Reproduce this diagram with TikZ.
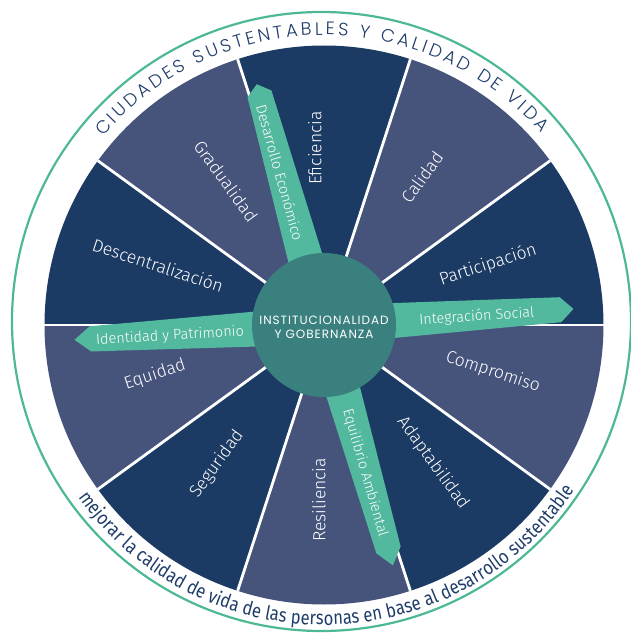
\documentclass[tikz,border=0pt]{standalone}
\usepackage{fontspec}
\setmainfont{Fira Sans Light}
\newfontfamily\capsfont{Poppins Light}
\newfontfamily\hubfont[LetterSpace=8]{Poppins}
\newfontfamily\arcfont[FakeStretch=0.85]{Fira Sans}
\usetikzlibrary{decorations.text}

\definecolor{navy}{HTML}{1B3A64}
\definecolor{slate}{HTML}{46547C}
\definecolor{hubfill}{HTML}{3A807F}
\definecolor{ribbon}{HTML}{52B89E}
\definecolor{ink}{HTML}{1F3D6B}
\definecolor{ringline}{HTML}{4DB894}

\tikzset{
  wedgelabel/.style={text=white, inner sep=0pt, font=\fontsize{17.5}{19}\selectfont},
  ribbonlabel/.style={text=white, inner sep=0pt, font=\fontsize{14.5}{16}\selectfont},
  ribbonfill/.style={fill=ribbon, draw=none},
  divider/.style={white, line width=2.8pt},
}

% one tapered banner leaving the hub at angle #1, point length #2
\newcommand{\banner}[2]{%
  \begin{scope}[rotate=#1]
    \path[ribbonfill] (0,19.5) -- ({250-#2},{19.5-0.0294*(250-#2)})
      -- (250,0) -- ({250-#2},{-19.5+0.0294*(250-#2)}) -- (0,-19.5) -- cycle;
  \end{scope}}

\begin{document}
\begin{tikzpicture}[x=1pt,y=1pt]
\useasboundingbox (-324,-310) rectangle (307,325);

% outer ring
\draw[ringline, line width=2.2pt] (-2.5,3.5) circle[radius=309.5];

% ten wedges
\foreach \a/\c in {72/navy,36/slate,0/navy,-36/slate,-72/navy,-108/slate,-144/navy,180/slate,144/navy,108/slate}
  \fill[\c] (0,0) -- (\a:279.5) arc[start angle=\a, end angle=\a+36, radius=279.5] -- cycle;

% white separators
\foreach \a in {0,36,...,324}
  \draw[divider] (0,0) -- (\a:279.5);

% banners
\banner{105.6}{10}
\banner{3.7}{13}
\banner{183.4}{16}
\banner{-74}{16}

% hub
\node[circle, fill=hubfill, minimum size=144pt, inner sep=0pt] (hub) at (0,0) {};
\node[text=white, align=center, inner sep=0pt,
      font=\hubfont\fontsize{12}{14}\selectfont] (hubtext) at (0,-2.5)
  {INSTITUCIONALIDAD\\Y GOBERNANZA};

% wedge labels
\node[wedgelabel, rotate=90]  (eficiencia) at (-9,177) {Eficiencia};
\node[wedgelabel, rotate=54]  (calidad) at (98,148) {Calidad};
\node[wedgelabel, rotate=18]  (participacion) at (164,60) {Participación};
\node[wedgelabel, rotate=-18] (compromiso) at (169,-47) {Compromiso};
\node[wedgelabel, rotate=-54] (adaptabilidad) at (109,-138) {Adaptabilidad};
\node[wedgelabel, rotate=90]  (resiliencia) at (-5,-175) {Resiliencia};
\node[wedgelabel, rotate=54]  (seguridad) at (-107,-139) {Seguridad};
\node[wedgelabel, rotate=18]  (equidad) at (-169,-50) {Equidad};
\node[wedgelabel, rotate=-18] (descentralizacion) at (-166,60) {Descentralización};
\node[wedgelabel, rotate=-54] (gradualidad) at (-98,144) {Gradualidad};

% banner labels
\node[ribbonlabel, rotate=-74.4] (economico) at (-44,152.5) {Desarrollo Económico};
\node[ribbonlabel, rotate=3.7]   (social) at (152.7,8.3) {Integración Social};
\node[ribbonlabel, rotate=3.4]   (patrimonio) at (-154,-11) {Identidad y Patrimonio};
\node[ribbonlabel, rotate=-74]   (ambiental) at (41,-148) {Equilibrio Ambiental};

% curved titles
\path[decorate, decoration={text along path, text color=ink, text align={fit to path},
    text={|\capsfont\fontsize{18}{21}\selectfont|CIUDADES SUSTENTABLES Y CALIDAD DE VIDA}}]
  (139.5:290) arc[start angle=139.5, end angle=41.5, radius=290];
\path[decorate, decoration={text along path, text color=ink, text align={fit to path},
    text={|\arcfont\fontsize{19.5}{22}\selectfont|mejorar la calidad de vida de las personas en base al desarrollo sustentable}}]
  (215:300) arc[start angle=215, end angle=326.5, radius=300];
\end{tikzpicture}
\end{document}
